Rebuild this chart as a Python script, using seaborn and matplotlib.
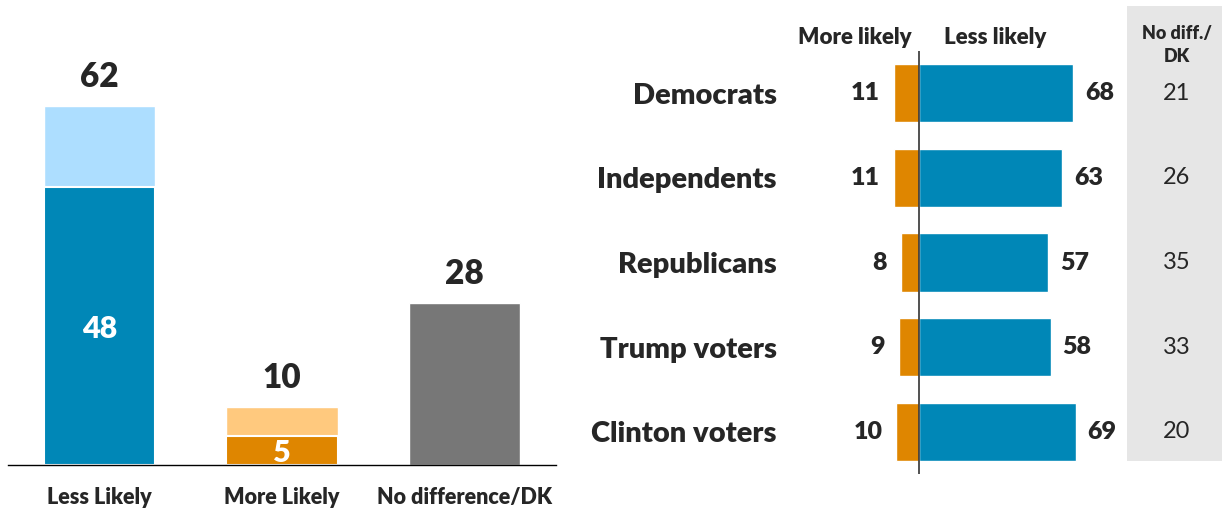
import matplotlib
matplotlib.use('Agg')
import matplotlib.pyplot as plt
import matplotlib.transforms as mtransforms
from matplotlib.patches import Rectangle
import seaborn as sns

# left panel: overall result
overall_cats = ['Less Likely', 'More Likely', 'No difference/DK']
overall_total = [62, 10, 28]
overall_strong = [48, 5]  # darker segment of the first two bars

# right panel: by group
groups = ['Democrats', 'Independents', 'Republicans', 'Trump voters', 'Clinton voters']
more_likely = [11, 11, 8, 9, 10]
less_likely = [68, 63, 57, 58, 69]
no_diff = [21, 26, 35, 33, 20]

DARK_BLUE = '#0087B7'
LIGHT_BLUE = '#ADDEFF'
DARK_ORANGE = '#DF8600'
LIGHT_ORANGE = '#FFC97E'
GREY = '#777777'
GREY_BG = '#E6E6E6'
BOLD = 'heavy'

sns.set_theme(style='white')
plt.rcParams['font.family'] = ['Lato', 'DejaVu Sans']

W, H = 1222, 513
fig = plt.figure(figsize=(12.22, 5.13), dpi=100)


def fx(px):
    return px / W


def fy(py):
    return 1 - py / H


# ---- left panel ----
ax1 = fig.add_axes([fx(8), fy(465), fx(556) - fx(8), fy(31) - fy(465)])
sns.barplot(x=overall_cats, y=overall_total, hue=overall_cats,
            palette=[LIGHT_BLUE, LIGHT_ORANGE, GREY], width=0.61,
            saturation=1, errorbar=None, legend=False, ax=ax1)
sns.barplot(x=overall_cats[:2], y=overall_strong, hue=overall_cats[:2],
            order=overall_cats, palette=[DARK_BLUE, DARK_ORANGE], width=0.61,
            saturation=1, errorbar=None, edgecolor='white', linewidth=1.5,
            legend=False, ax=ax1)
ax1.set_xlim(-0.5, 2.5)
ax1.set_ylim(0, 75)

for i, v in enumerate(overall_total):
    ax1.annotate(str(v), (i, v), xytext=(0, 21), textcoords='offset points',
                 ha='center', va='center', fontsize=24, fontweight=BOLD)
for i, v in enumerate(overall_strong):
    ax1.text(i, v / 2, str(v), ha='center', va='center_baseline', fontsize=22,
             fontweight=BOLD, color='white')

ax1.set_yticks([])
ax1.set_xlabel('')
ax1.set_ylabel('')
ax1.tick_params(axis='x', length=0, pad=16)
for lab in ax1.get_xticklabels():
    lab.set_fontsize(15.5)
    lab.set_fontweight(BOLD)
for s in ['top', 'left', 'right']:
    ax1.spines[s].set_visible(False)
ax1.spines['bottom'].set_color('black')
ax1.spines['bottom'].set_linewidth(1)
ax1.spines['bottom'].set_zorder(5)

# ---- right panel ----
ax2 = fig.add_axes([fx(790), fy(474), fx(1127) - fx(790), fy(51) - fy(474)])
ax2.set_facecolor('none')
sns.barplot(x=[-m for m in more_likely], y=groups, color=DARK_ORANGE,
            orient='h', width=0.69, saturation=1, errorbar=None, ax=ax2)
sns.barplot(x=less_likely, y=groups, color=DARK_BLUE,
            orient='h', width=0.69, saturation=1, errorbar=None, ax=ax2)
ax2.set_xlim(-56.8, 91.6)
ax2.set_ylim(4.5, -0.5)
ax2.axvline(0, color='#333333', lw=1.2)

for i, (m, l) in enumerate(zip(more_likely, less_likely)):
    ax2.annotate(str(m), (-m, i), xytext=(-10, 0), textcoords='offset points',
                 ha='right', va='center', fontsize=18, fontweight=BOLD)
    ax2.annotate(str(l), (l, i), xytext=(8.6, 0), textcoords='offset points',
                 ha='left', va='center', fontsize=18, fontweight=BOLD)

ax2.set_xticks([])
ax2.set_xlabel('')
ax2.set_ylabel('')
ax2.tick_params(axis='y', length=0, pad=9.4)
for lab in ax2.get_yticklabels():
    lab.set_fontsize(21)
    lab.set_fontweight(BOLD)
for s in ax2.spines.values():
    s.set_visible(False)

# grey "No diff./DK" column
fig.patches.append(Rectangle((fx(1127), fy(461)), fx(1222) - fx(1127),
                             fy(6) - fy(461), transform=fig.transFigure,
                             facecolor=GREY_BG, edgecolor='none', zorder=-1))
trans = mtransforms.blended_transform_factory(fig.transFigure, ax2.transData)
for i, v in enumerate(no_diff):
    t = fig.text(fx(1177), 0, str(v), transform=trans, ha='center',
                 va='center', fontsize=17, zorder=5)
    t.set_y(i)

fig.text(fx(855), fy(37), 'More likely', ha='center', va='center',
         fontsize=16, fontweight=BOLD)
fig.text(fx(995), fy(37), 'Less likely', ha='center', va='center',
         fontsize=16, fontweight=BOLD)
fig.text(fx(1177), fy(45), 'No diff./\nDK', ha='center', va='center',
         fontsize=13, fontweight=BOLD, linespacing=1.5)

fig.savefig('out.png', dpi=100)
